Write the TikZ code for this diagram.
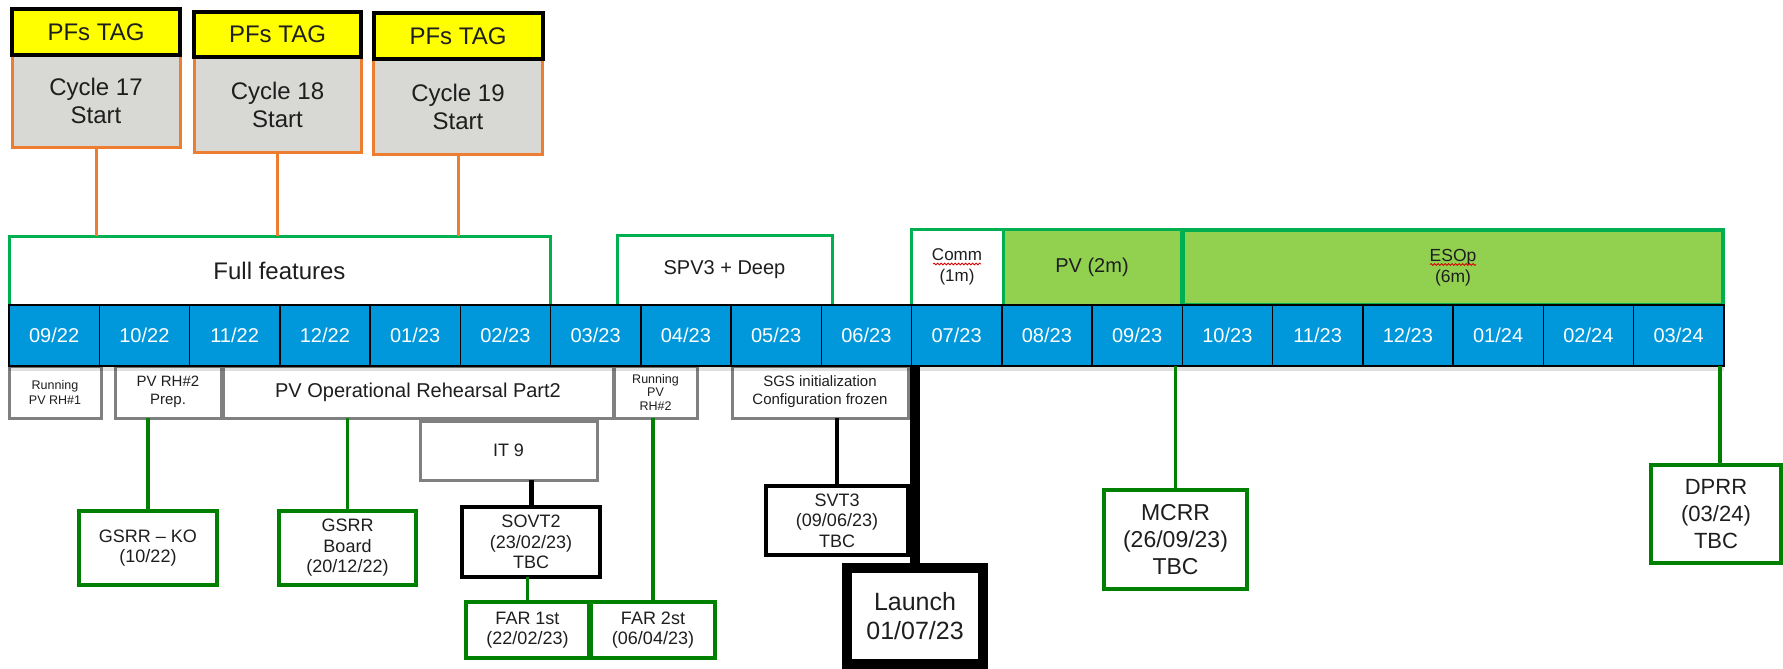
\documentclass[tikz,border=0pt]{standalone}
\usepackage{fontspec}
\setmainfont{Liberation Sans}
\usetikzlibrary{decorations.pathmorphing}

\definecolor{tagyellow}{RGB}{255,255,0}
\definecolor{cycgray}{RGB}{216,216,213}
\definecolor{orng}{RGB}{237,125,49}
\definecolor{brightgreen}{RGB}{0,176,80}
\definecolor{lightgreen}{RGB}{146,208,80}
\definecolor{cellblue}{RGB}{0,152,218}
\definecolor{darkgreen}{RGB}{0,128,0}
\definecolor{boxgray}{RGB}{128,128,128}
\definecolor{txt}{RGB}{30,30,30}

\newcommand{\fs}[2]{\fontsize{#1}{#2}\selectfont}

\begin{document}
\begin{tikzpicture}[x=1pt,y=-1pt,
  every node/.style={inner sep=0pt, outer sep=0pt, align=center, text=txt},
  sz/.style n args={2}{minimum width=#1pt, minimum height=#2pt},
  tagbox/.style={draw=black, line width=4pt, fill=tagyellow, font=\fs{24}{28}},
  cycbox/.style={draw=orng, line width=3pt, fill=cycgray, font=\fs{24}{28}},
  orline/.style={draw=orng, line width=3pt},
  phase/.style={draw=brightgreen, line width=3pt, fill=white},
  phasegreen/.style={draw=brightgreen, line width=3pt, fill=lightgreen},
  month/.style={draw=black, line width=1.5pt, fill=cellblue, text=white, font=\fs{20}{24}},
  actbox/.style={draw=boxgray, line width=3pt, fill=white},
  msgreen/.style={draw=darkgreen, line width=3.5pt, fill=white, font=\fs{18}{20.5}},
  grline/.style={draw=darkgreen, line width=3.5pt},
  msblack/.style={draw=black, line width=4pt, fill=white, font=\fs{18}{20.5}},
  blline/.style={draw=black, line width=4pt},
  squiggle/.style={draw=red!85!black, line width=0.8pt, decorate, decoration={snake, amplitude=0.9pt, segment length=3.5pt}}
]
\useasboundingbox (0,0) rectangle (1783,669);
\fill[white] (0,0) rectangle (1783,669);

% --- Cycle boxes (top) ---
\node[cycbox, sz={168}{92}] (cyc1) at (96,101) {Cycle 17\\Start};
\node[tagbox, sz={168}{46}] (tag1) at (96,32) {PFs TAG};
\node[cycbox, sz={167}{95}] (cyc2) at (277.5,104.5) {Cycle 18\\Start};
\node[tagbox, sz={167}{45}] (tag2) at (277.5,34.5) {PFs TAG};
\node[cycbox, sz={169}{95}] (cyc3) at (458,106.5) {Cycle 19\\Start};
\node[tagbox, sz={169}{46}] (tag3) at (458,36) {PFs TAG};

% --- Phase boxes ---
\node[phase, sz={541}{69}, font=\fs{24}{28}] (ff) at (279.5,270.5) {Full features};
\node[phase, sz={215}{70}, font=\fs{20}{24}] (spv) at (724.5,270) {SPV3 + Deep};
\node[phase, sz={92}{76}, font=\fs{17}{21}] (comm) at (957,267) {Comm\\(1m)};
\node[phasegreen, sz={178}{76}, font=\fs{20}{24}] (pv) at (1092,267) {PV (2m)};
\node[phasegreen, line width=4pt, sz={540}{75}, font=\fs{17.5}{21}] (esop) at (1453,267.5) {ESOp\\(6m)};
\draw[squiggle] ([xshift=-24pt,yshift=3pt]comm.center) -- ([xshift=24pt,yshift=3pt]comm.center);
\draw[squiggle] ([xshift=-23pt,yshift=3pt]esop.center) -- ([xshift=23pt,yshift=3pt]esop.center);

% --- Activity boxes below the bar ---
\node[actbox, sz={92}{52}, font=\fs{12.5}{15}] (rh1) at (55,392) {Running\\PV RH\#1};
\node[actbox, sz={106}{52}, font=\fs{15}{18}] (rh2p) at (168,392) {PV RH\#2\\Prep.};
\node[actbox, sz={390}{52}, font=\fs{20}{24}] (por) at (418,392) {PV Operational Rehearsal Part2};
\node[actbox, sz={83}{52}, font=\fs{12.5}{13.5}] (rrh2) at (655.5,392) {Running\\PV\\RH\#2};
\node[actbox, sz={176}{52}, font=\fs{15}{18}] (sgs) at (820,392) {SGS initialization\\Configuration frozen};
\node[actbox, sz={177}{59}, font=\fs{18}{21}] (it9) at (508.5,450.5) {IT 9};

% --- Milestones ---
\node[msgreen, sz={138}{74}] (gsrrko) at (148,548) {GSRR -- KO\\(10/22)};
\node[msgreen, sz={137}{74}] (gsrrb) at (347.5,548) {GSRR\\Board\\(20/12/22)};
\node[msblack, sz={138}{70}] (sovt2) at (531,542) {SOVT2\\(23/02/23)\\TBC};
\node[msgreen, sz={123}{56}] (far1) at (527.5,630) {FAR 1st\\(22/02/23)};
\node[msgreen, sz={124}{56}] (far2) at (653,630) {FAR 2st\\(06/04/23)};
\node[msblack, sz={142}{69}] (svt3) at (837,520.5) {SVT3\\(09/06/23)\\TBC};
\node[msblack, line width=10pt, sz={136}{96}, font=\fs{25}{29.5}] (launch) at (915,616) {Launch\\01/07/23};
\node[msgreen, sz={143}{99}, font=\fs{23}{26.7}] (mcrr) at (1175.5,539.5) {MCRR\\(26/09/23)\\TBC};
\node[msgreen, sz={130}{98}, font=\fs{22}{27}] (dprr) at (1716,514) {DPRR\\(03/24)\\TBC};

% --- Connectors ---
\draw[orline] (cyc1.south) -- (cyc1.south |- ff.north);
\draw[orline] (cyc2.south) -- (cyc2.south |- ff.north);
\draw[orline] (cyc3.south) -- (cyc3.south |- ff.north);
\draw[grline] (gsrrko.north) -- (gsrrko.north |- rh2p.south);
\draw[grline] (gsrrb.north) -- (gsrrb.north |- por.south);
\draw[blline, line width=5pt] (sovt2.north) -- (sovt2.north |- it9.south);
\draw[grline] (far1.north) -- (far1.north |- sovt2.south);
\draw[grline] (far2.north) -- (far2.north |- rrh2.south);
\draw[blline] (svt3.north) -- (svt3.north |- sgs.south);

% --- Month bar ---
\fill[black, opacity=0.12] (9,366) rectangle (1724,371);
\foreach \t [count=\i from 0] in {{09/22},{10/22},{11/22},{12/22},{01/23},{02/23},{03/23},{04/23},{05/23},{06/23},{07/23},{08/23},{09/23},{10/23},{11/23},{12/23},{01/24},{02/24},{03/24}}
  \node[month, sz={90.25}{61}] (m\i) at ({9+90.25*(\i+0.5)},335.5) {\t};

\draw[blline, line width=10pt] (launch.north) -- (launch.north |- m10.south);
\draw[grline] (mcrr.north) -- (mcrr.north |- m12.south);
\draw[grline] ([xshift=4pt]dprr.north) -- ([xshift=4pt]dprr.north |- m18.south);
\end{tikzpicture}
\end{document}
